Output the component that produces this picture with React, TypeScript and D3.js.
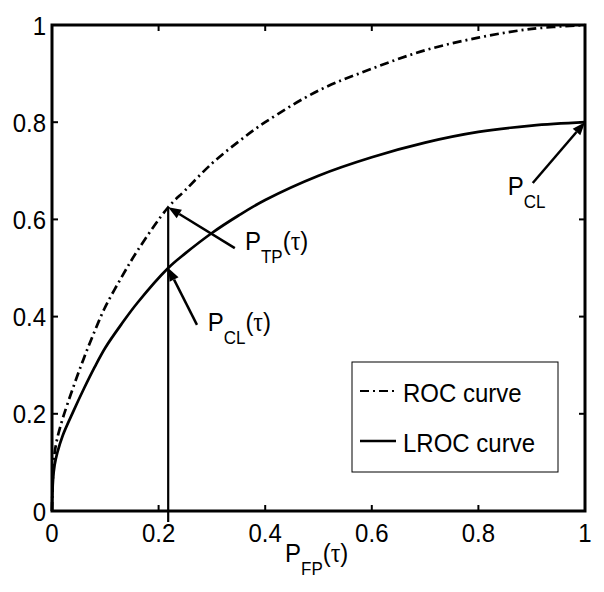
import React from "react";
import * as d3 from "d3";

const fpr = [0, 0.002, 0.005, 0.01, 0.02, 0.04, 0.06, 0.08, 0.1, 0.13, 0.16, 0.218, 0.25, 0.3, 0.35, 0.4, 0.5, 0.6, 0.7, 0.8, 0.9, 1.0];
const rocTP = [0, 0.08, 0.12, 0.15, 0.19, 0.255, 0.315, 0.37, 0.42, 0.48, 0.535, 0.625, 0.66, 0.715, 0.76, 0.8, 0.865, 0.91, 0.948, 0.974, 0.992, 1.0];
const lrocCL = [0, 0.065, 0.095, 0.12, 0.155, 0.205, 0.252, 0.296, 0.336, 0.384, 0.428, 0.5, 0.53, 0.572, 0.608, 0.64, 0.69, 0.728, 0.758, 0.78, 0.793, 0.8];
const xTicks = [0, 0.2, 0.4, 0.6, 0.8, 1];
const yTicks = [0, 0.2, 0.4, 0.6, 0.8, 1];
const xTickLabels = ["0", "0.2", "0.4", "0.6", "0.8", "1"];
const yTickLabels = ["0", "0.2", "0.4", "0.6", "0.8", "1"];
const tau = 0.218;
const legendLabels = ["ROC curve", "LROC curve"];
// annotations: arrow head (data) <- tail (data), label position (data)
const annotations = [
  { headX: 0.218, headY: 0.625, tailX: 0.343, tailY: 0.541, main: "P", sub: "TP", tau: true, labelX: 0.362, labelY: 0.537 },
  { headX: 0.218, headY: 0.5, tailX: 0.272, tailY: 0.383, main: "P", sub: "CL", tau: true, labelX: 0.292, labelY: 0.37 },
  { headX: 1.0, headY: 0.8, tailX: 0.902, tailY: 0.675, main: "P", sub: "CL", tau: false, labelX: 0.855, labelY: 0.650 },
];

const W = 604, H = 592;
const M = { left: 52, right: 585, top: 25, bottom: 511 };
const FONT = "'Liberation Sans', Arial, Helvetica, sans-serif";
const SY = 1.1; // slight vertical stretch of text, as in the reference

export default function App() {
  const x = d3.scaleLinear().domain([0, 1]).range([M.left, M.right]);
  const y = d3.scaleLinear().domain([0, 1]).range([M.bottom, M.top]);
  const line = d3.line<number>().x((_, i) => x(fpr[i])).y((d) => y(d)).curve(d3.curveCatmullRom.alpha(0.5));

  const arrow = (x1: number, y1: number, x2: number, y2: number, key: string) => {
    const ang = Math.atan2(y2 - y1, x2 - x1);
    const L = 13, Wd = 5;
    const bx = x2 - L * Math.cos(ang), by = y2 - L * Math.sin(ang);
    const px = -Math.sin(ang), py = Math.cos(ang);
    return (
      <g key={key}>
        <line x1={x1} y1={y1} x2={bx} y2={by} stroke="#000" strokeWidth={2.5} />
        <path d={`M${x2},${y2}L${bx + px * Wd},${by + py * Wd}L${bx - px * Wd},${by - py * Wd}Z`} fill="#000" />
      </g>
    );
  };

  const T = (tx: number, ty: number, content: React.ReactNode, key: string, anchor = "start") => (
    <text key={key} transform={`translate(${tx},${ty}) scale(1,${SY})`} textAnchor={anchor} fontFamily={FONT} fontSize={24} fill="#000">
      {content}
    </text>
  );

  const label = (lx: number, ly: number, main: string, sub: string, withTau: boolean, key: string) =>
    T(
      lx,
      ly,
      <>
        {main}
        <tspan dy={12} fontSize={17}>{sub}</tspan>
        {withTau ? (
          <tspan dy={-12}>
            (<tspan fontFamily="'Liberation Serif', 'Times New Roman', serif">τ</tspan>)
          </tspan>
        ) : null}
      </>,
      key
    );

  const legX = 352, legY = 362, legW = 206, legH = 110;

  return (
    <svg width={W} height={H} style={{ position: "absolute", left: 0, top: 0, background: "#fff" }}>
      <rect x={0} y={0} width={W} height={H} fill="#fff" />
      {/* curves */}
      <path d={line(rocTP) || ""} fill="none" stroke="#000" strokeWidth={2.7} strokeDasharray="9,4,2,4" />
      <path d={line(lrocCL) || ""} fill="none" stroke="#000" strokeWidth={2.7} />
      {/* vertical line at tau */}
      <line x1={x(tau)} x2={x(tau)} y1={y(0.625)} y2={M.bottom + 11} stroke="#000" strokeWidth={2.2} />
      {/* ticks */}
      {xTicks.map((t, i) => (
        <g key={"xt" + i}>
          <line x1={x(t)} x2={x(t)} y1={M.bottom} y2={M.bottom - 6} stroke="#000" strokeWidth={2} />
          <line x1={x(t)} x2={x(t)} y1={M.top} y2={M.top + 6} stroke="#000" strokeWidth={2} />
          {T(x(t), 542, xTickLabels[i], "xl" + i, "middle")}
        </g>
      ))}
      {yTicks.map((t, i) => (
        <g key={"yt" + i}>
          <line x1={M.left} x2={M.left + 6} y1={y(t)} y2={y(t)} stroke="#000" strokeWidth={2} />
          <line x1={M.right} x2={M.right - 6} y1={y(t)} y2={y(t)} stroke="#000" strokeWidth={2} />
          {T(46, y(t) + 9.5, yTickLabels[i], "yl" + i, "end")}
        </g>
      ))}
      {/* axes box */}
      <rect x={M.left} y={M.top} width={M.right - M.left} height={M.bottom - M.top} fill="none" stroke="#000" strokeWidth={3} />
      {/* annotations */}
      {annotations.map((a, i) => arrow(x(a.tailX), y(a.tailY), x(a.headX), y(a.headY), "ar" + i))}
      {annotations.map((a, i) => label(x(a.labelX), y(a.labelY), a.main, a.sub, a.tau, "lb" + i))}
      {/* x axis label */}
      {label(285, 562, "P", "FP", true, "xlab")}
      {/* legend */}
      <rect x={legX} y={legY} width={legW} height={legH} fill="#fff" stroke="#000" strokeWidth={1} />
      <line x1={legX + 8} x2={legX + 44} y1={legY + 29} y2={legY + 29} stroke="#000" strokeWidth={2} strokeDasharray="9,4,2,4" />
      <line x1={legX + 8} x2={legX + 44} y1={legY + 79} y2={legY + 79} stroke="#000" strokeWidth={2.5} />
      {T(legX + 51, legY + 40, legendLabels[0], "lg0")}
      {T(legX + 51, legY + 90, legendLabels[1], "lg1")}
    </svg>
  );
}
